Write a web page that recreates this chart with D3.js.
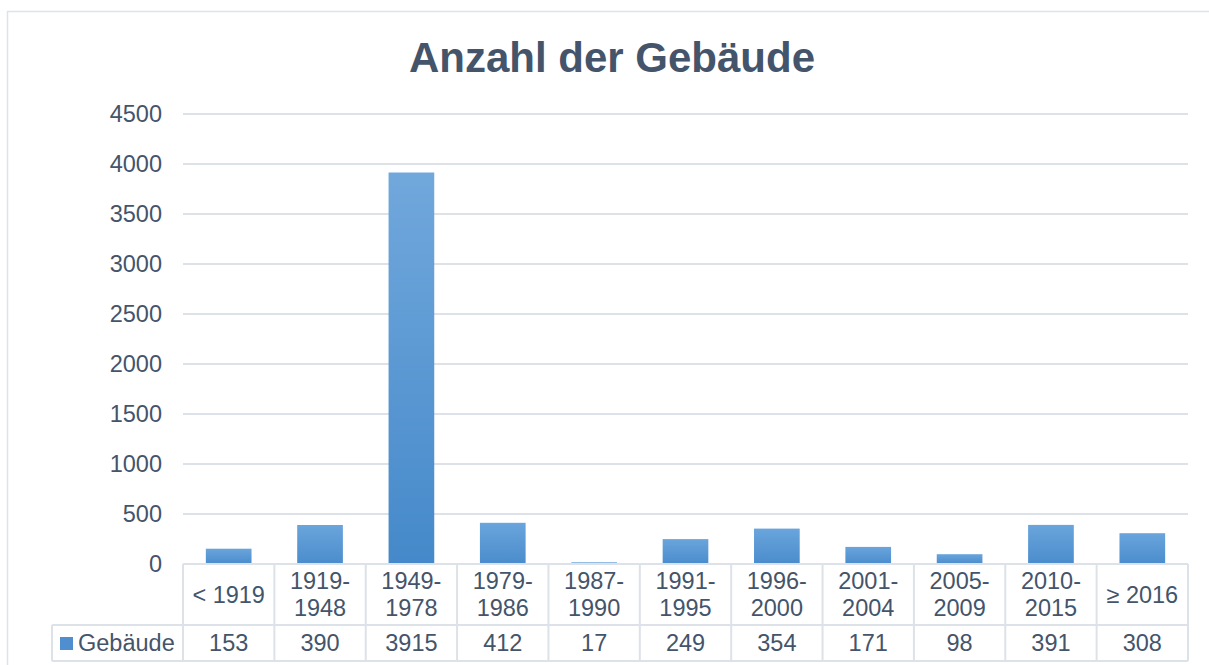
<!DOCTYPE html>
<html>
<head>
<meta charset="utf-8">
<script src="https://cdn.jsdelivr.net/npm/d3@7"></script>
<style>
  body { margin: 0; background: #fff; }
  svg text { font-family: "Liberation Sans", Arial, sans-serif; fill: #44546A; }
</style>
</head>
<body>
<svg id="chart" width="1209" height="665"></svg>
<script>
// chart data
const categories = ["< 1919", "1919-\n1948", "1949-\n1978", "1979-\n1986", "1987-\n1990", "1991-\n1995",
  "1996-\n2000", "2001-\n2004", "2005-\n2009", "2010-\n2015", "≥ 2016"];
const values = [153, 390, 3915, 412, 17, 249, 354, 171, 98, 391, 308];
const yTicks = [0, 500, 1000, 1500, 2000, 2500, 3000, 3500, 4000, 4500];
const seriesName = "Gebäude";
const title = "Anzahl der Gebäude";

const svg = d3.select("#chart");
const plotLeft = 183, plotRight = 1188, plotTop = 114, plotBottom = 564;
const row1 = 625, row2 = 661, legendLeft = 52;
const textColor = "#44546A", lineColor = "#DDE1E8";

// outer frame
svg.append("rect")
  .attr("x", 7.5).attr("y", 11.5)
  .attr("width", 1220).attr("height", 700)
  .attr("fill", "none").attr("stroke", "#DFE3E8").attr("stroke-width", 1.5);

svg.append("text")
  .attr("x", 612).attr("y", 72)
  .attr("text-anchor", "middle")
  .style("font-size", "42px").style("font-weight", "bold")
  .text(title);

const x = d3.scaleBand().domain(categories).range([plotLeft, plotRight]).paddingInner(0.5).paddingOuter(0.25);
const y = d3.scaleLinear().domain([0, 4500]).range([plotBottom, plotTop]);

// gridlines
svg.append("g")
  .selectAll("line")
  .data(yTicks.filter(d => d > 0))
  .enter().append("line")
  .attr("x1", plotLeft).attr("x2", plotRight)
  .attr("y1", d => y(d)).attr("y2", d => y(d))
  .attr("stroke", lineColor).attr("stroke-width", 2);

// y axis labels
const yAxis = svg.append("g")
  .attr("transform", `translate(${plotLeft},0)`)
  .call(d3.axisLeft(y).tickValues(yTicks).tickFormat(d3.format("d")).tickSize(0).tickPadding(21));
yAxis.select(".domain").remove();
yAxis.selectAll("text")
  .style("font-size", "23.5px")
  .attr("font-family", null)
  .attr("fill", textColor);

// gradient for bars
const defs = svg.append("defs");
const grad = defs.append("linearGradient")
  .attr("id", "barGrad")
  .attr("gradientUnits", "userSpaceOnUse")
  .attr("x1", 0).attr("x2", 0).attr("y1", y(3915)).attr("y2", plotBottom);
grad.append("stop").attr("offset", "0%").attr("stop-color", "#71A8DC");
grad.append("stop").attr("offset", "100%").attr("stop-color", "#4589CA");

const barGrad = defs.append("linearGradient")
  .attr("id", "smallGrad")
  .attr("x1", 0).attr("x2", 0).attr("y1", 0).attr("y2", 1);
barGrad.append("stop").attr("offset", "0%").attr("stop-color", "#6AA5DC");
barGrad.append("stop").attr("offset", "100%").attr("stop-color", "#4A8CCC");

svg.append("g")
  .selectAll("rect")
  .data(values)
  .enter().append("rect")
  .attr("x", (d, i) => x(categories[i]))
  .attr("y", d => y(d))
  .attr("width", x.bandwidth())
  .attr("height", d => plotBottom - y(d))
  .attr("fill", d => d > 1000 ? "url(#barGrad)" : "url(#smallGrad)");

// data table
const step = x.step();
const bounds = categories.map((c, i) => plotLeft + i * step).concat([plotRight]);
const table = svg.append("g")
  .attr("stroke", lineColor).attr("stroke-width", 2);

table.selectAll(".vline")
  .data(bounds)
  .enter().append("line")
  .attr("x1", d => d).attr("x2", d => d)
  .attr("y1", plotBottom).attr("y2", row2);
table.append("line").attr("x1", legendLeft).attr("x2", legendLeft).attr("y1", row1).attr("y2", row2);
table.append("line").attr("x1", plotLeft).attr("x2", plotRight).attr("y1", plotBottom).attr("y2", plotBottom);
table.append("line").attr("x1", legendLeft).attr("x2", plotRight).attr("y1", row1).attr("y2", row1);
table.append("line").attr("x1", legendLeft).attr("x2", plotRight).attr("y1", row2).attr("y2", row2);

// category labels
const catText = svg.append("g")
  .selectAll("text")
  .data(categories)
  .enter().append("text")
  .attr("text-anchor", "middle")
  .style("font-size", "23.5px");
catText.each(function (d) {
  const lines = d.split("\n");
  const cx = x(d) + x.bandwidth() / 2;
  const mid = (plotBottom + row1) / 2;
  const t = d3.select(this);
  lines.forEach((ln, j) => {
    t.append("tspan")
      .attr("x", cx)
      .attr("y", mid + (j - (lines.length - 1) / 2) * 27 + 8)
      .text(ln);
  });
});

// values row
svg.append("g")
  .selectAll("text")
  .data(values)
  .enter().append("text")
  .attr("x", (d, i) => x(categories[i]) + x.bandwidth() / 2)
  .attr("y", (row1 + row2) / 2 + 8)
  .attr("text-anchor", "middle")
  .style("font-size", "23.5px")
  .text(d => d);

// legend key
svg.append("rect")
  .attr("x", 60).attr("y", 637)
  .attr("width", 13).attr("height", 13)
  .attr("fill", "#4F8FD0");
svg.append("text")
  .attr("x", 78).attr("y", (row1 + row2) / 2 + 8)
  .style("font-size", "23.5px")
  .text(seriesName);
</script>
</body>
</html>
